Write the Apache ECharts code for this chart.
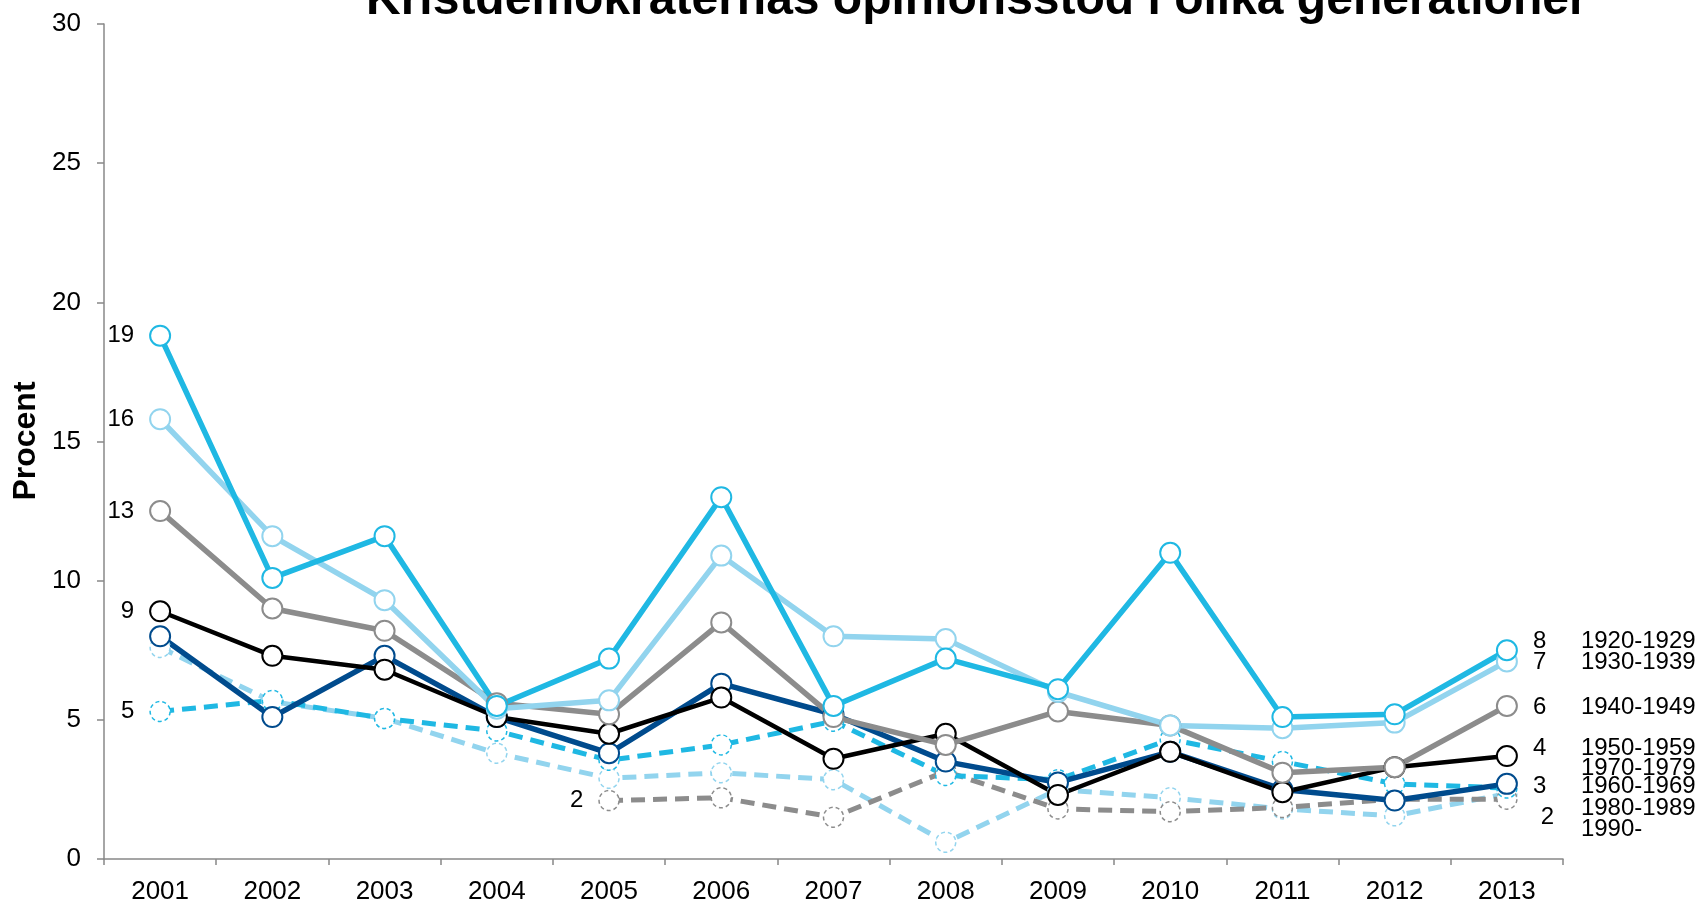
<!DOCTYPE html>
<html>
<head>
<meta charset="utf-8">
<script src="https://cdn.jsdelivr.net/npm/echarts@6/dist/echarts.min.js"></script>
<style>
  html, body { margin: 0; padding: 0; background: #fff; }
  #chart { width: 1700px; height: 905px; }
</style>
</head>
<body>
<div id="chart"></div>
<script>
// årtal
var years = ['2001', '2002', '2003', '2004', '2005', '2006', '2007', '2008', '2009', '2010', '2011', '2012', '2013'];
var yTicks = [0, 5, 10, 15, 20, 25, 30];

// stöd per generation (procent)
var g1920 = [18.8, 10.1, 11.6, 5.5, 7.2, 13.0, 5.5, 7.2, 6.1, 11.0, 5.1, 5.2, 7.5];
var g1930 = [15.8, 11.6, 9.3, 5.4, 5.7, 10.9, 8.0, 7.9, 6.0, 4.8, 4.7, 4.9, 7.1];
var g1940 = [12.5, 9.0, 8.2, 5.6, 5.2, 8.5, 5.1, 4.1, 5.3, 4.8, 3.1, 3.3, 5.5];
var g1950 = [8.9, 7.3, 6.8, 5.1, 4.5, 5.8, 3.6, 4.5, 2.3, 3.85, 2.4, 3.3, 3.7];
var g1960 = [8.0, 5.1, 7.3, 5.1, 3.8, 6.3, 5.2, 3.5, 2.75, 3.85, 2.5, 2.1, 2.7];
var g1970 = [5.3, 5.7, 5.05, 4.6, 3.55, 4.1, 4.95, 3.0, 2.85, 4.3, 3.5, 2.7, 2.55];
var g1980 = [null, null, null, null, 2.1, 2.2, 1.5, 3.15, 1.8, 1.7, 1.85, 2.15, 2.15];
var g1990 = [7.6, 5.65, 5.05, 3.8, 2.9, 3.1, 2.85, 0.6, 2.5, 2.2, 1.8, 1.55, 2.35];

// etiketter: vänster (första punkt) och höger (sista punkt)
var startLabels = { '1920-1929': '19', '1930-1939': '16', '1940-1949': '13', '1950-1959': '9', '1970-1979': '5', '1980-1989': '2' };
var endLabels = { '1920-1929': '8', '1930-1939': '7', '1940-1949': '6', '1950-1959': '4', '1960-1969': '3', '1980-1989': '2' };

var FONT = '"Liberation Sans", Arial, sans-serif';
var NARROW = '"Liberation Sans Narrow", "Arial Narrow", "Liberation Sans", Arial, sans-serif';

var chart = echarts.init(document.getElementById('chart'), null, { renderer: 'canvas' });

function makeSeries(name, values, color, dashed, lineW, numDy, nameDy) {
  var first = values.findIndex(function (v) { return v != null; });
  var last = values.length - 1;
  var data = values.map(function (v, i) {
    var item = { value: v };
    if (i === first && startLabels[name]) {
      item.label = { show: true, position: 'left', distance: 15, formatter: startLabels[name] };
    }
    if (i === last && endLabels[name]) {
      item.label = { show: true, position: 'right', distance: name === '1980-1989' ? 23 : 15, offset: [0, numDy], formatter: endLabels[name] };
    }
    return item;
  });
  return {
    name: name,
    type: 'line',
    data: data,
    symbol: 'circle',
    symbolSize: 20,
    connectNulls: false,
    lineStyle: { color: color, width: lineW, type: dashed ? [14, 8] : 'solid' },
    itemStyle: {
      color: '#fff',
      borderColor: color,
      borderWidth: dashed ? 1.5 : 2,
      borderType: dashed ? [4, 3] : 'solid'
    },
    label: { color: '#000', fontSize: 24, fontFamily: FONT },
    endLabel: {
      show: true,
      formatter: name,
      color: '#000',
      fontSize: 24,
      fontFamily: FONT,
      distance: 0,
      offset: [74, nameDy]
    },
    emphasis: { disabled: true }
  };
}

var option = {
  animation: false,
  backgroundColor: '#fff',
  title: {
    text: 'Kristdemokraternas opinionsstöd i olika generationer',
    left: 361,
    top: -28,
    textStyle: { fontSize: 48, fontWeight: 'bold', fontFamily: NARROW, color: '#000' }
  },
  graphic: [{
    type: 'text',
    x: 26,
    y: 441,
    rotation: Math.PI / 2,
    style: {
      text: 'Procent',
      fontSize: 32,
      fontWeight: 'bold',
      fontFamily: NARROW,
      fill: '#000',
      align: 'center',
      verticalAlign: 'middle'
    }
  }],
  grid: { left: 104, right: 137, top: 24, bottom: 45, containLabel: false },
  xAxis: {
    type: 'category',
    data: years,
    boundaryGap: true,
    axisLine: { lineStyle: { color: '#888', width: 1.5 } },
    axisTick: { show: true, length: 6, lineStyle: { color: '#888', width: 1.5 } },
    axisLabel: { color: '#000', fontSize: 26, fontFamily: FONT, margin: 20 },
    splitLine: { show: false }
  },
  yAxis: {
    type: 'value',
    min: yTicks[0],
    max: yTicks[yTicks.length - 1],
    interval: yTicks[1] - yTicks[0],
    axisLine: { show: true, lineStyle: { color: '#888', width: 1.5 } },
    axisTick: { show: true, length: 7, lineStyle: { color: '#888', width: 1.5 } },
    axisLabel: { color: '#000', fontSize: 26, fontFamily: FONT, margin: 23 },
    splitLine: { show: false }
  },
  series: [
    makeSeries('1990-', g1990, '#92D4EE', true, 5, 0, 36),
    makeSeries('1980-1989', g1980, '#8C8C8C', true, 5, 18, 9),
    makeSeries('1970-1979', g1970, '#1FB8E3', true, 5, 0, -20),
    makeSeries('1960-1969', g1960, '#004B8D', false, 5.5, 3, 3),
    makeSeries('1950-1959', g1950, '#000000', false, 4.5, -8, -8),
    makeSeries('1940-1949', g1940, '#8C8C8C', false, 5.5, 1, 1),
    makeSeries('1930-1939', g1930, '#92D4EE', false, 5.5, 1, 1),
    makeSeries('1920-1929', g1920, '#1FB8E3', false, 5.5, -9, -9)
  ]
};

chart.setOption(option);
</script>
</body>
</html>
